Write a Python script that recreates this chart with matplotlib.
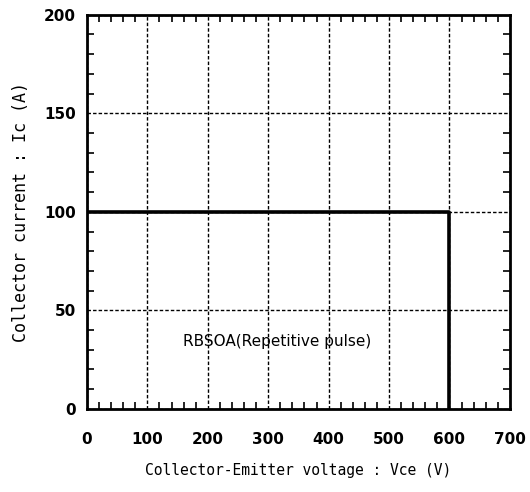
import matplotlib
matplotlib.use('Agg')
import matplotlib.pyplot as plt
from matplotlib.ticker import MultipleLocator

# RBSOA boundary
vce = [0, 600, 600]
ic = [100, 100, 0]

x_ticks = [0, 100, 200, 300, 400, 500, 600, 700]
y_ticks = [0, 50, 100, 150, 200]

fig = plt.figure(figsize=(5.3, 4.92), dpi=100)
ax = fig.add_axes([0.164, 0.169, 0.798, 0.801])

ax.plot(vce, ic, color='black', linewidth=2.6, solid_capstyle='butt', zorder=3)

ax.set_xlim(0, 700)
ax.set_ylim(0, 200)
ax.set_xticks(x_ticks)
ax.set_yticks(y_ticks)
ax.xaxis.set_minor_locator(MultipleLocator(20))
ax.yaxis.set_minor_locator(MultipleLocator(10))

ax.grid(True, which='major', color='black', linestyle=(0, (2.5, 1.5)), linewidth=1.0)
ax.tick_params(which='both', direction='in', top=True, right=True, color='black')
ax.tick_params(which='major', length=0, width=1.2)
ax.tick_params(which='minor', length=5, width=1.2)
ax.tick_params(axis='x', which='major', pad=17, labelsize=11)
ax.tick_params(axis='y', which='major', pad=8, labelsize=11)
for lbl in ax.get_xticklabels() + ax.get_yticklabels():
    lbl.set_fontweight('bold')

for sp in ax.spines.values():
    sp.set_linewidth(2)

ax.set_xlabel('Collector-Emitter voltage : Vce (V)', fontsize=10.5,
              family='DejaVu Sans Mono', labelpad=11)
ax.set_ylabel('Collector current : Ic (A)', fontsize=12,
              family='DejaVu Sans Mono', labelpad=10)

ax.text(314, 34, 'RBSOA(Repetitive pulse)', ha='center', va='center', fontsize=11)

fig.savefig('out.png', dpi=100)
